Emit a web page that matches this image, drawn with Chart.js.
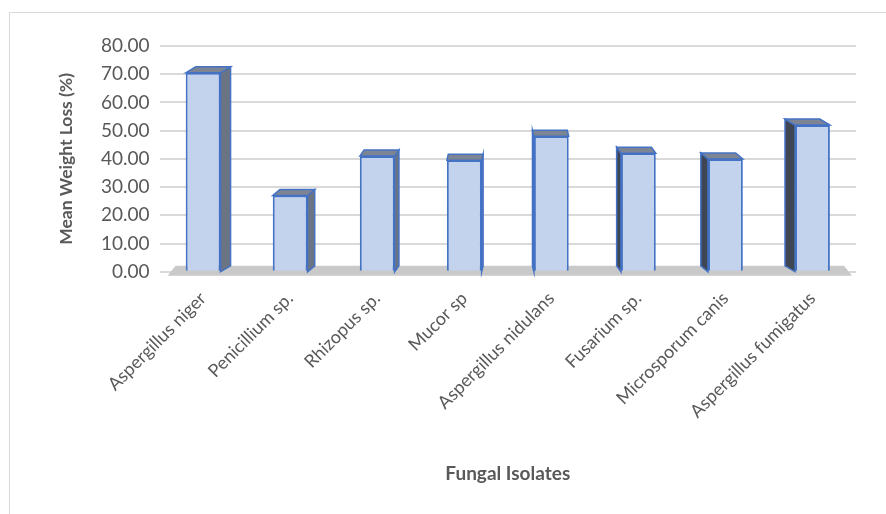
<!DOCTYPE html>
<html>
<head>
<meta charset="utf-8">
<script src="https://cdn.jsdelivr.net/npm/chart.js@4"></script>
<style>
  html, body { margin: 0; padding: 0; background: #fff; overflow: hidden; }
  #frame { position: absolute; left: 9px; top: 12px; width: 900px; height: 520px; border: 1px solid #d9d9d9; }
  #wrap { position: absolute; left: 0; top: 0; width: 886px; height: 514px; }
</style>
</head>
<body>
<div id="frame"></div>
<div id="wrap"><canvas id="weightChart"></canvas></div>
<script>
const isolates = ['Aspergillus niger', 'Penicillium sp.', 'Rhizopus sp.', 'Mucor sp',
  'Aspergillus nidulans', 'Fusarium sp.', 'Microsporum canis', 'Aspergillus fumigatus'];
const meanWeightLoss = [70.5, 27.0, 41.0, 39.5, 48.0, 42.0, 40.0, 52.0];
const yTicks = [0, 10, 20, 30, 40, 50, 60, 70, 80];

// fake 3D: floor, side faces and tops, built from the bar elements
const pseudo3d = {
  id: 'pseudo3d',
  beforeDatasetsDraw(chart) {
    const { ctx, chartArea } = chart;
    const base = chart.scales.y.getPixelForValue(0);
    ctx.save();
    ctx.fillStyle = '#c9c9c9';
    ctx.beginPath();
    ctx.moveTo(chartArea.left + 8, base + 4);
    ctx.lineTo(chartArea.right - 4, base + 4);
    ctx.lineTo(chartArea.right - 12, base - 6);
    ctx.lineTo(chartArea.left + 16, base - 6);
    ctx.closePath();
    ctx.fill();
    const mid = (chartArea.left + chartArea.right) / 2;
    chart.getDatasetMeta(0).data.forEach(bar => {
      const { x, y, width } = bar.getProps(['x', 'y', 'width']);
      const dx = -(x - mid) * 0.033;
      const dy = -6;
      const l = x - width / 2, r = x + width / 2;
      const edge = dx >= 0 ? r : l;
      ctx.fillStyle = dx >= 0 ? '#6b7483' : '#3e4654';
      ctx.strokeStyle = '#4472c4';
      ctx.lineWidth = 1.5;
      ctx.beginPath();
      ctx.moveTo(edge, y);
      ctx.lineTo(edge + dx, y + dy);
      ctx.lineTo(edge + dx, base + dy);
      ctx.lineTo(edge, base);
      ctx.closePath();
      ctx.fill();
      ctx.stroke();
      ctx.fillStyle = '#7d8594';
      ctx.beginPath();
      ctx.moveTo(l, y);
      ctx.lineTo(l + dx, y + dy);
      ctx.lineTo(r + dx, y + dy);
      ctx.lineTo(r, y);
      ctx.closePath();
      ctx.fill();
      ctx.stroke();
    });
    ctx.restore();
  }
};

const ctx = document.getElementById('weightChart').getContext('2d');
const weightChart = new Chart(ctx, {
  type: 'bar',
  data: {
    labels: isolates,
    datasets: [{
      label: 'Mean Weight Loss (%)',
      data: meanWeightLoss,
      backgroundColor: '#c3d3ee',
      borderColor: '#4472c4',
      borderWidth: 2,
      barPercentage: 0.4,
      categoryPercentage: 1
    }]
  },
  options: {
    responsive: true,
    maintainAspectRatio: false,
    animation: false,
    layout: { padding: { left: 52, right: 30, top: 46, bottom: 25 } },
    plugins: {
      legend: { display: false },
      tooltip: { enabled: false }
    },
    scales: {
      x: {
        grid: { display: false },
        border: { display: false },
        ticks: {
          color: '#595959',
          font: { family: 'Lato', size: 18 },
          minRotation: 45,
          maxRotation: 45,
          padding: 8
        },
        title: {
          display: true,
          text: 'Fungal Isolates',
          color: '#595959',
          font: { family: 'Lato', size: 19, weight: 'bold' },
          padding: { top: 32 }
        }
      },
      y: {
        min: 0,
        max: 80,
        afterBuildTicks: axis => { axis.ticks = yTicks.map(v => ({ value: v })); },
        grid: { color: '#d9d9d9', lineWidth: 2, drawTicks: false },
        border: { display: false },
        ticks: {
          color: '#595959',
          font: { family: 'Lato', size: 19 },
          padding: 10,
          callback: v => Number(v).toFixed(2)
        },
        title: {
          display: true,
          text: 'Mean Weight Loss (%)',
          color: '#595959',
          font: { family: 'Lato', size: 17.5, weight: 'bold' },
          padding: { bottom: 14 }
        }
      }
    }
  },
  plugins: [pseudo3d]
});
</script>
</body>
</html>
